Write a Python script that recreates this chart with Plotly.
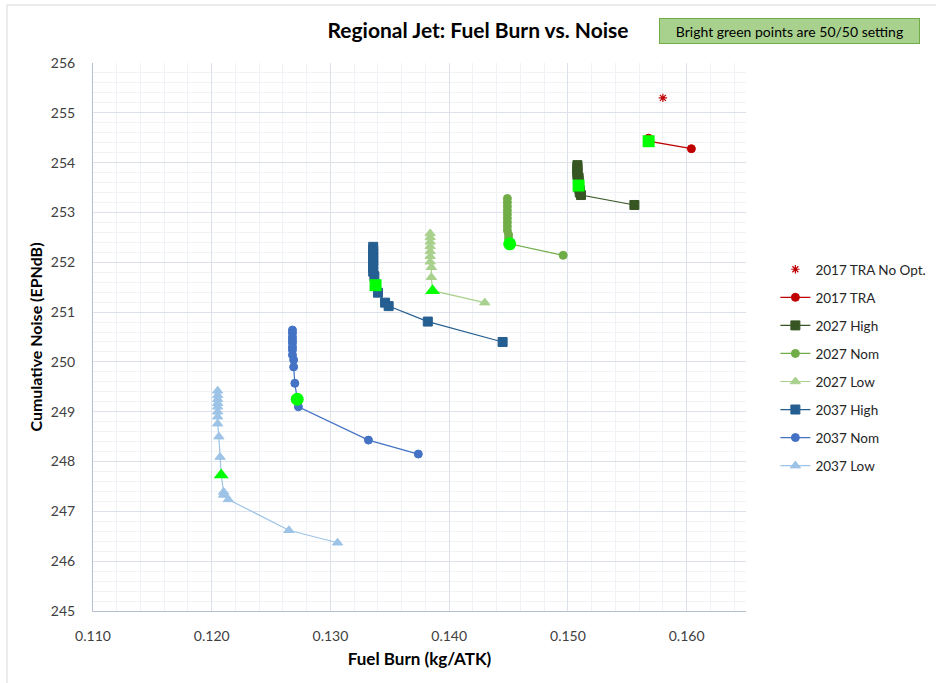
import plotly.graph_objects as go

# ---- data ----
tra_noopt_x = [0.1580]
tra_noopt_y = [255.30]

tra_x = [0.1568, 0.1568, 0.1604]
tra_y = [254.49, 254.43, 254.28]

h27_x = [0.1508, 0.1508, 0.1508, 0.1508, 0.1508, 0.1509, 0.1509, 0.1509, 0.1509, 0.1509, 0.1510, 0.1510, 0.1511, 0.1556]
h27_y = [253.95, 253.90, 253.85, 253.80, 253.75, 253.70, 253.65, 253.60, 253.54, 253.50, 253.45, 253.40, 253.35, 253.15]

n27_x = [0.1449, 0.1449, 0.1449, 0.1449, 0.1449, 0.1449, 0.1449, 0.1449, 0.1449, 0.1450, 0.1450, 0.1451, 0.1496]
n27_y = [253.28, 253.20, 253.12, 253.04, 252.96, 252.88, 252.80, 252.72, 252.64, 252.55, 252.48, 252.37, 252.14]

l27_x = [0.1384, 0.1384, 0.1384, 0.1384, 0.1384, 0.1384, 0.1384, 0.1385, 0.1385, 0.1386, 0.1430]
l27_y = [252.58, 252.50, 252.41, 252.32, 252.22, 252.12, 252.01, 251.90, 251.70, 251.43, 251.19]

h37_x = [0.1336, 0.1336, 0.1336, 0.1336, 0.1336, 0.1336, 0.1336, 0.1336, 0.1337, 0.1338, 0.1340, 0.1346, 0.1349, 0.1382, 0.1445]
h37_y = [252.31, 252.24, 252.17, 252.10, 252.03, 251.96, 251.89, 251.81, 251.72, 251.54, 251.39, 251.19, 251.12, 250.81, 250.40]

n37_x = [0.1268, 0.1268, 0.1268, 0.1268, 0.1268, 0.1268, 0.1268, 0.1268, 0.1269, 0.1269, 0.1270, 0.1272, 0.1273, 0.1332, 0.1374]
n37_y = [250.64, 250.58, 250.50, 250.44, 250.38, 250.30, 250.24, 250.14, 250.04, 249.90, 249.57, 249.25, 249.10, 248.43, 248.15]

l37_x = [0.1205, 0.1205, 0.1205, 0.1205, 0.1205, 0.1205, 0.1205, 0.1205, 0.1206, 0.1207, 0.1208, 0.1210, 0.1210, 0.1214, 0.1265, 0.1306]
l37_y = [249.42, 249.33, 249.25, 249.17, 249.10, 249.00, 248.90, 248.76, 248.50, 248.09, 247.73, 247.39, 247.33, 247.24, 246.62, 246.37]

# bright green 50/50 settings
g_circle_x = [0.1451, 0.1272]
g_circle_y = [252.37, 249.25]
g_square_x = [0.1568, 0.1509, 0.1338]
g_square_y = [254.43, 253.54, 251.54]
g_tri_x = [0.1386, 0.1208]
g_tri_y = [251.43, 247.73]

FONT = "Lato, 'Open Sans', sans-serif"

fig = go.Figure()

def series(name, x, y, color, symbol, size=8, line=True):
    fig.add_trace(go.Scatter(
        x=x, y=y, name=name, legendgroup=name,
        mode="lines+markers" if line else "markers",
        line=dict(color=color, width=1.2),
        marker=dict(color=color, symbol=symbol, size=size,
                    line=dict(color=color, width=1 if symbol != "asterisk-open" else 1.2)),
    ))

series("2017 TRA No Opt.", tra_noopt_x, tra_noopt_y, "#C00000", "asterisk-open", size=7, line=False)
series("2017 TRA", tra_x, tra_y, "#C00000", "circle", size=8)
series("2027 High", h27_x, h27_y, "#375623", "square", size=9)
series("2027 Nom", n27_x, n27_y, "#70AD47", "circle", size=8)
series("2027 Low", l27_x, l27_y, "#A9D18E", "triangle-up", size=9)
series("2037 High", h37_x, h37_y, "#255E91", "square", size=9)
series("2037 Nom", n37_x, n37_y, "#4472C4", "circle", size=8)
series("2037 Low", l37_x, l37_y, "#9DC3E6", "triangle-up", size=9)

for gx, gy, sym, sz in [(g_circle_x, g_circle_y, "circle", 13),
                        (g_square_x, g_square_y, "square", 12),
                        (g_tri_x, g_tri_y, "triangle-up", 13)]:
    fig.add_trace(go.Scatter(x=gx, y=gy, mode="markers", showlegend=False,
                             marker=dict(color="#00FF00", symbol=sym, size=sz,
                                         line=dict(width=0))))

fig.update_layout(
    width=936, height=683,
    paper_bgcolor="white", plot_bgcolor="white",
    margin=dict(l=93, r=190, t=63, b=72, autoexpand=False),
    font=dict(family=FONT, size=14, color="#404040"),
    title=dict(text="<b>Regional Jet: Fuel Burn vs. Noise</b>", x=478/936, xanchor="center",
               y=1 - 31/683, yanchor="middle", font=dict(size=21, color="#000000")),
    legend=dict(x=1.045, xanchor="left", y=(611 - 268 + 14) / 548, yanchor="top",
                font=dict(size=13.5, color="#262626"), tracegroupgap=7.5,
                itemwidth=30, bgcolor="rgba(0,0,0,0)"),
    showlegend=True,
)

fig.update_xaxes(
    range=[0.110, 0.165], dtick=0.01, tick0=0.11, tickformat=".3f",
    showgrid=True, gridcolor="#DCE1EA", gridwidth=1,
    minor=dict(dtick=0.002, showgrid=True, gridcolor="#F0F2F6", gridwidth=1),
    showline=True, linecolor="#B4BFD2", linewidth=1, zeroline=False,
    ticks="", ticklabelstandoff=12,
    title=dict(text="<b>Fuel Burn (kg/ATK)</b>", font=dict(size=17, color="#000000"), standoff=10),
)
fig.update_yaxes(
    range=[245, 256], dtick=1,
    showgrid=True, gridcolor="#DCE1EA", gridwidth=1,
    minor=dict(dtick=0.2, showgrid=True, gridcolor="#F0F2F6", gridwidth=1),
    showline=True, linecolor="#B4BFD2", linewidth=1, zeroline=False,
    ticks="", ticklabelstandoff=14,
    title=dict(text="<b>Cumulative Noise (EPNdB)</b>", font=dict(size=16, color="#000000"), standoff=4),
)

# annotation box
fig.add_annotation(
    xref="paper", yref="paper",
    x=(789 - 93) / 653, y=1 + (63 - 31) / 548, xanchor="center", yanchor="middle",
    text="Bright green points are 50/50 setting", showarrow=False,
    font=dict(size=14, color="#000000"),
    bgcolor="#A9D18E", bordercolor="#70AD47", borderwidth=1,
    width=255, height=20, borderpad=2,
)

# outer chart border
fig.add_shape(type="rect", xref="paper", yref="paper",
              x0=(7 - 93) / 653, x1=(960 - 93) / 653,
              y0=(611 - 700) / 548, y1=1 + (63 - 5) / 548,
              line=dict(color="#D9D9D9", width=1), fillcolor="rgba(0,0,0,0)", layer="below")

fig.write_html("out.html")
